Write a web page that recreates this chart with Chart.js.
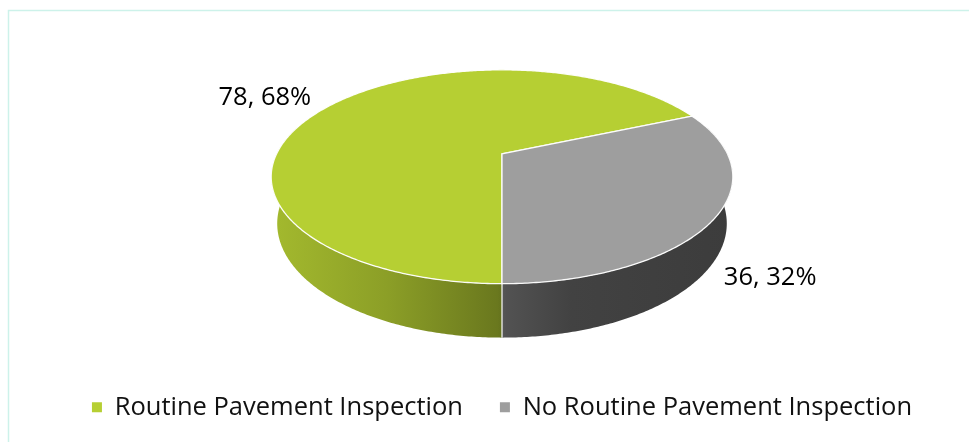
<!DOCTYPE html>
<html>
<head>
<meta charset="utf-8">
<script src="https://cdn.jsdelivr.net/npm/chart.js@4.4.1/dist/chart.umd.min.js"></script>
<style>
  html, body { margin: 0; padding: 0; background: #ffffff; }
  #wrap { width: 969px; height: 442px; }
</style>
</head>
<body>
<div id="wrap"><canvas id="chart" width="969" height="442"></canvas></div>
<script>
// Survey answers: agencies with / without routine pavement inspection
const categories = ['Routine Pavement Inspection', 'No Routine Pavement Inspection'];
const counts = [78, 36];
const sliceColors = ['#b6cf33', '#9e9e9e'];

// 3D pie look: camera elevation, eye distance and slab thickness (in pie radii)
const TILT = Math.asin(0.4524);
const EYE = 4.148;
const DEPTH = 0.234;
const WIDTH_FACTOR = 1.466;   // on-screen radius relative to the arc radius Chart.js computes
const FONT = '"Open Sans", "Liberation Sans", sans-serif';
const FONT_SIZE = 25.5;

// side shading across the slab, left to right (fraction of the top colour)
const SIDE_SHADE = [[0, 0.90], [0.25, 0.77], [0.49, 0.58], [0.51, 0.52], [0.65, 0.42], [1, 0.38]];

function project(cx, cy, S, ang, r, h) {
  const X = r * Math.cos(ang), Z = r * Math.sin(ang), Y = h;
  const s = Math.sin(TILT), c = Math.cos(TILT);
  const yc = Y * c - Z * s;
  const zc = EYE - (Z * c + Y * s);
  const f = S * EYE;
  return { x: cx + f * X / zc, y: cy - f * yc / zc };
}

function shade(hex, k) {
  const n = parseInt(hex.slice(1), 16);
  const r = Math.round(((n >> 16) & 255) * k);
  const g = Math.round(((n >> 8) & 255) * k);
  const b = Math.round((n & 255) * k);
  return `rgb(${r},${g},${b})`;
}

function geometry(chart) {
  const arcs = chart.getDatasetMeta(0).data;
  const a0 = arcs[0];
  const S = a0.outerRadius * WIDTH_FACTOR;
  const top = project(0, 0, S, -Math.PI / 2, 1, 0).y;
  const bottom = project(0, 0, S, Math.PI / 2, 1, -DEPTH).y;
  return { arcs, S, cx: a0.x, cy: a0.y - (top + bottom) / 2 };
}

const frame = {
  id: 'frame',
  beforeDraw(chart) {
    const ctx = chart.ctx;
    ctx.save();
    ctx.fillStyle = '#ffffff';
    ctx.fillRect(0, 0, chart.width, chart.height);
    ctx.strokeStyle = '#cdf2ea';
    ctx.lineWidth = 1.5;
    ctx.strokeRect(8.5, 10.5, chart.width + 20, chart.height + 20);
    ctx.restore();
  }
};

const pie3d = {
  id: 'pie3d',
  beforeDatasetsDraw(chart) {
    const ctx = chart.ctx;
    const { arcs, S, cx, cy } = geometry(chart);
    const TWO_PI = Math.PI * 2;
    const delta = Math.asin(1 / (EYE * Math.cos(TILT)));
    const lo = -delta, hi = Math.PI + delta;
    const left = cx - S * 1.03, right = cx + S * 1.03;

    ctx.save();
    // slab sides (front half only)
    arcs.forEach((arc, i) => {
      const grad = ctx.createLinearGradient(left, 0, right, 0);
      SIDE_SHADE.forEach(([t, k]) => grad.addColorStop(t, shade(sliceColors[i], k)));
      for (let k = -2; k <= 2; k++) {
        const s = Math.max(arc.startAngle, lo + TWO_PI * k);
        const e = Math.min(arc.endAngle, hi + TWO_PI * k);
        if (e <= s) continue;
        const n = Math.max(8, Math.ceil((e - s) / 0.01));
        ctx.beginPath();
        for (let j = 0; j <= n; j++) {
          const p = project(cx, cy, S, s + (e - s) * j / n, 1, 0);
          j === 0 ? ctx.moveTo(p.x, p.y) : ctx.lineTo(p.x, p.y);
        }
        for (let j = n; j >= 0; j--) {
          const p = project(cx, cy, S, s + (e - s) * j / n, 1, -DEPTH);
          ctx.lineTo(p.x, p.y);
        }
        ctx.closePath();
        ctx.fillStyle = grad;
        ctx.fill();
      }
    });
    // slice seams on the visible side
    ctx.strokeStyle = 'rgba(255,255,255,0.9)';
    ctx.lineWidth = 1.3;
    arcs.forEach(arc => {
      const b = arc.startAngle;
      if (Math.sin(b) > 0) {
        const p1 = project(cx, cy, S, b, 1, 0), p2 = project(cx, cy, S, b, 1, -DEPTH);
        ctx.beginPath(); ctx.moveTo(p1.x, p1.y); ctx.lineTo(p2.x, p2.y); ctx.stroke();
      }
    });
    // top faces
    arcs.forEach((arc, i) => {
      const s = arc.startAngle, e = arc.endAngle;
      const n = Math.max(8, Math.ceil((e - s) / 0.01));
      ctx.beginPath();
      ctx.moveTo(cx, cy);
      for (let j = 0; j <= n; j++) {
        const p = project(cx, cy, S, s + (e - s) * j / n, 1, 0);
        ctx.lineTo(p.x, p.y);
      }
      ctx.closePath();
      ctx.fillStyle = sliceColors[i];
      ctx.fill();
      ctx.strokeStyle = 'rgba(255,255,255,0.95)';
      ctx.lineWidth = 1.3;
      ctx.stroke();
    });
    ctx.restore();
    return false;
  },
  afterDraw(chart) {
    const ctx = chart.ctx;
    const { arcs, S, cx, cy } = geometry(chart);
    const total = counts.reduce((a, b) => a + b, 0);
    ctx.save();
    ctx.font = `${FONT_SIZE}px ${FONT}`;
    ctx.fillStyle = '#000000';
    ctx.textBaseline = 'middle';
    arcs.forEach((arc, i) => {
      const mid = (arc.startAngle + arc.endAngle) / 2;
      const front = Math.sin(mid) > 0;
      const p = project(cx, cy, S, mid, 1, front ? -DEPTH : 0);
      const toRight = Math.cos(mid) >= 0;
      const text = `${counts[i]}, ${Math.round(counts[i] / total * 100)}%`;
      ctx.textAlign = toRight ? 'left' : 'right';
      ctx.fillText(text, p.x + (toRight ? 14 : -22), p.y + (front ? 11 : -6));
    });
    ctx.restore();
  }
};

new Chart(document.getElementById('chart'), {
  type: 'pie',
  data: {
    labels: categories,
    datasets: [{ data: counts, backgroundColor: sliceColors, borderWidth: 0 }]
  },
  options: {
    responsive: false,
    devicePixelRatio: 1,
    animation: false,
    events: [],
    rotation: 180,
    layout: { padding: { top: 50, left: 35, right: 0, bottom: 12 } },
    plugins: {
      tooltip: { enabled: false },
      legend: {
        position: 'bottom',
        labels: {
          boxWidth: 10,
          boxHeight: 10,
          padding: 37,
          color: '#111111',
          font: { family: FONT, size: FONT_SIZE }
        }
      }
    }
  },
  plugins: [frame, pie3d]
});
</script>
</body>
</html>
